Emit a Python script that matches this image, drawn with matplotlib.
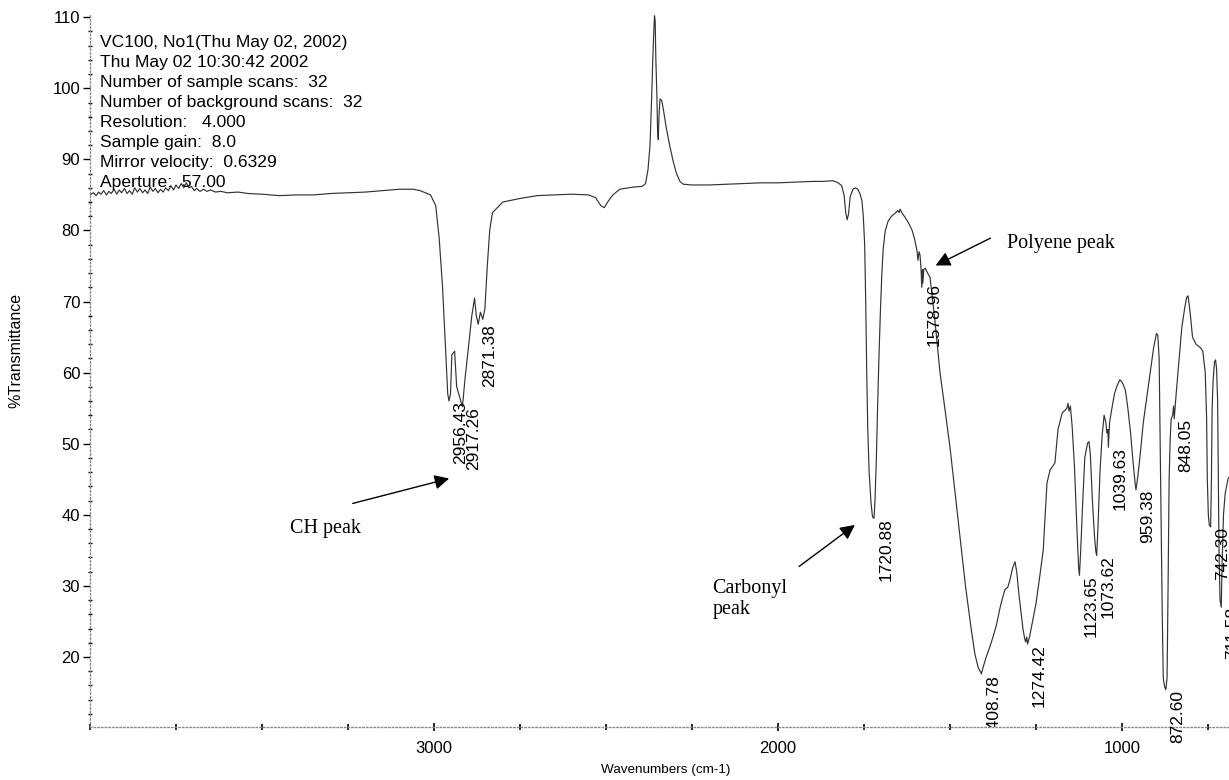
import matplotlib
matplotlib.use("Agg")
import matplotlib.pyplot as plt
from matplotlib.ticker import FixedLocator, MultipleLocator
import numpy as np

# FTIR spectrum, wavenumber (cm-1) against %T
wavenumber = [
    4000, 3990, 3982, 3975, 3968, 3960, 3952, 3945, 3938, 3930, 3922, 3915,
    3908, 3900, 3892, 3885, 3877, 3870, 3862, 3855, 3847, 3840, 3832, 3825,
    3817, 3810, 3802, 3795, 3787, 3780, 3772, 3765, 3757, 3750, 3742, 3735,
    3727, 3720, 3712, 3705, 3697, 3690, 3680, 3670, 3660, 3650, 3635, 3620,
    3600, 3570, 3540, 3500, 3450, 3400, 3350, 3300, 3250, 3200, 3150, 3100,
    3060, 3040, 3025, 3010,
    2995, 2985, 2975, 2966, 2960, 2956.43, 2952, 2948, 2940, 2934, 2925,
    2917.26, 2910, 2900, 2890, 2882, 2877, 2871.38, 2865, 2858, 2852, 2845,
    2838, 2830, 2800, 2750,
    2700, 2650, 2600, 2550, 2530, 2515, 2505, 2495, 2480, 2460, 2420, 2395,
    2385, 2378, 2372, 2368, 2364, 2361, 2359, 2357, 2355, 2352, 2350, 2348,
    2346, 2343, 2338, 2333, 2325, 2315, 2305, 2295, 2285, 2275, 2250, 2200,
    2150, 2100, 2050, 2000, 1950, 1900, 1870, 1840, 1825, 1815, 1808, 1803,
    1799, 1795, 1790, 1782, 1775, 1768, 1762, 1756, 1752, 1748, 1745, 1742,
    1739, 1735, 1730, 1726, 1724, 1720.88, 1718, 1714, 1710, 1706, 1702, 1698,
    1694, 1688, 1680, 1670, 1660, 1652, 1648, 1645, 1640, 1630, 1620, 1610,
    1603, 1596, 1593, 1590, 1587, 1584, 1582, 1580, 1578.96, 1576, 1572, 1565,
    1558, 1550, 1544, 1536, 1529, 1515, 1500, 1485, 1470, 1455, 1440, 1428,
    1418, 1410, 1408.78, 1404, 1396, 1385, 1375, 1365, 1355, 1349, 1340, 1332,
    1326, 1318, 1311, 1306, 1300, 1294, 1288, 1283, 1280, 1277, 1274.42, 1268,
    1260, 1250, 1240, 1229, 1218, 1209, 1195, 1186, 1174, 1166, 1160, 1157,
    1154, 1150, 1145, 1138, 1131, 1126, 1123.65, 1120, 1114, 1108, 1100, 1096,
    1092, 1086, 1080, 1076, 1073.62, 1070, 1064, 1058, 1052, 1047, 1044, 1041,
    1039.63, 1036, 1030, 1022, 1014, 1006, 998, 990, 983, 975, 968, 962,
    959.38, 955, 948, 938, 928, 918, 908, 900, 896, 892, 889, 886, 883, 880,
    876, 872.60, 869, 866, 863, 860, 857, 853, 850, 848.05, 845, 840, 832,
    826, 818, 812, 808, 802, 795, 785, 772, 765, 758, 754, 752, 749, 746,
    742.30, 740, 738, 735, 731, 728, 725, 722, 720, 718, 715, 711.58, 709,
    705, 700, 692, 680, 665, 650,
]
transmittance = [
    85.0, 85.3, 84.9, 85.4, 85.1, 85.6, 85.0, 85.5, 85.2, 85.8, 85.1, 85.7,
    85.3, 85.9, 85.2, 85.6, 85.1, 86.0, 85.4, 85.9, 85.3, 85.7, 85.2, 86.1,
    85.5, 85.9, 85.3, 85.8, 85.4, 86.0, 85.6, 86.3, 85.7, 86.4, 85.9, 86.6,
    86.0, 86.7, 86.0, 86.2, 85.6, 85.9, 85.5, 85.8, 85.5, 85.7, 85.4, 85.5,
    85.3, 85.4, 85.2, 85.1, 84.9, 85.0, 85.0, 85.2, 85.3, 85.4, 85.6, 85.8,
    85.8, 85.6, 85.3, 85.0,
    83.5, 79.0, 72.0, 63.0, 57.0, 56.0, 57.0, 62.5, 63.0, 58.0, 56.5,
    55.2, 59.0, 63.5, 68.0, 70.5, 68.0, 66.8, 68.5, 67.5, 69.0, 75.0,
    80.0, 82.5, 84.0, 84.5,
    84.9, 85.0, 85.1, 85.0, 84.6, 83.5, 83.2, 84.0, 85.0, 85.8, 86.1, 86.2,
    86.6, 88.5, 92.0, 97.5, 104.0, 108.0, 110.2, 109.5, 104.0, 99.0, 94.0, 92.8,
    96.0, 98.5, 98.3, 97.0, 94.5, 92.0, 89.8, 88.0, 86.9, 86.5, 86.4, 86.4,
    86.5, 86.6, 86.7, 86.7, 86.8, 86.9, 86.9, 87.0, 86.7, 86.3, 85.0, 82.5,
    81.5, 82.3, 84.8, 85.8, 86.0, 85.8, 85.2, 84.2, 82.0, 78.0, 70.0, 60.0,
    52.0, 46.0, 42.0, 40.0, 39.6, 39.5, 42.0, 48.0, 56.0, 63.0, 69.0, 74.0,
    77.5, 80.0, 81.3, 82.0, 82.4, 82.8, 82.5, 83.0, 82.5, 81.8, 81.0, 80.0,
    78.8, 77.2, 75.8, 77.0, 76.5, 74.5, 72.0, 74.5, 72.6, 74.5, 74.7, 74.0,
    73.4, 70.0, 67.4, 63.5, 60.0, 55.0, 49.5, 43.0, 36.5, 30.0, 24.5, 20.5,
    18.5, 17.8, 17.6, 18.5, 19.8, 21.3, 22.8, 24.5, 26.8, 28.0, 29.5, 29.8,
    30.8, 32.5, 33.4, 32.0, 29.0, 26.5, 24.0, 22.6, 22.1, 22.8, 21.8, 23.0,
    25.0, 27.5, 31.0, 35.0, 44.5, 46.3, 47.3, 52.0, 54.3, 54.7, 55.0, 55.7,
    54.6, 55.3, 52.5, 46.7, 38.0, 32.5, 31.5, 35.0, 42.0, 48.1, 50.1, 50.3,
    48.5, 42.0, 37.0, 34.8, 34.3, 38.0, 46.0, 51.0, 54.0, 53.0, 51.5, 52.0,
    49.5, 53.0, 54.8, 57.0, 58.2, 59.0, 58.5, 57.5, 55.0, 51.5, 47.5, 44.5,
    43.5, 45.0, 48.0, 53.0, 56.5, 60.0, 63.5, 65.5, 65.3, 62.0, 50.0, 38.0,
    26.0, 17.0, 15.8, 15.4, 17.0, 30.0, 45.0, 50.5, 53.5, 54.0, 55.3, 53.5,
    55.5, 58.5, 63.0, 66.4, 69.0, 70.6, 70.8, 68.5, 65.0, 64.0, 63.5, 63.0,
    60.0, 53.5, 45.0, 40.0, 38.5, 38.3, 45.0, 55.0, 59.0, 61.5, 61.8, 60.5,
    56.0, 45.0, 35.0, 28.0, 27.0, 33.0, 40.0, 43.0, 45.0, 46.0, 47.0, 48.0,
]

peak_labels = [2956.43, 2917.26, 2871.38, 1720.88, 1578.96, 1408.78, 1274.42,
               1123.65, 1073.62, 1039.63, 959.38, 872.60, 848.05, 742.30, 711.58]

header_lines = [
    "VC100, No1(Thu May 02, 2002)",
    "Thu May 02 10:30:42 2002",
    "Number of sample scans:  32",
    "Number of background scans:  32",
    "Resolution:   4.000",
    "Sample gain:  8.0",
    "Mirror velocity:  0.6329",
    "Aperture:  57.00",
]

plt.rcParams['font.family'] = ['Liberation Sans', 'DejaVu Sans']

fig = plt.figure(figsize=(12.29, 7.8), dpi=100)
ax = fig.add_axes([0.0732, 0.068, 0.9377, 0.9154])

ax.plot(wavenumber, transmittance, color='#333333', lw=0.85)

ax.set_xlim(4000, 650)
ax.set_ylim(10.15, 110.6)

for side in ['top', 'right']:
    ax.spines[side].set_visible(False)
for side in ['left', 'bottom']:
    ax.spines[side].set_linestyle(':')
    ax.spines[side].set_color('#8a8a8a')
    ax.spines[side].set_linewidth(1.0)

ax.xaxis.set_major_locator(FixedLocator([1000, 2000, 3000]))
ax.xaxis.set_minor_locator(MultipleLocator(250))
ax.yaxis.set_major_locator(FixedLocator(range(20, 111, 10)))
ax.yaxis.set_minor_locator(MultipleLocator(2))
ax.tick_params(axis='x', which='major', direction='inout', length=6, width=1.2,
               labelsize=12, pad=7)
ax.tick_params(axis='x', which='minor', direction='inout', length=5, width=1.2)
ax.tick_params(axis='y', which='major', direction='out', length=5, width=1,
               labelsize=12, pad=2)
ax.tick_params(axis='y', which='minor', direction='inout', length=3, width=1)

ax.set_xlabel('Wavenumbers (cm-1)', fontsize=9.7, labelpad=6)
fig.text(16 / 1229, 1 - 350 / 780, '%Transmittance', fontsize=11.5,
         rotation=90, ha='center', va='center')

# peak position labels, written upward just right of each minimum
wn_rev = np.array(wavenumber[::-1])
t_rev = np.array(transmittance[::-1])
for wn in peak_labels:
    t = np.interp(wn, wn_rev, t_rev)
    ax.annotate(f'{wn:.2f}', xy=(wn, t), xytext=(3, 0), textcoords='offset points',
                rotation=90, ha='left', va='top', fontsize=12.5,
                annotation_clip=False, clip_on=(wn == 1408.78))

# acquisition details
for i, line in enumerate(header_lines):
    fig.text(100 / 1229, 1 - (43 + i * 19.9) / 780, line, fontsize=12.6,
             ha='left', va='center')

serif = ['Liberation Serif', 'DejaVu Serif']
arrow = dict(arrowstyle='-|>', color='black', lw=1.0, mutation_scale=22)

ax.text(3419, 38.1, 'CH peak', family=serif, fontsize=14.5, ha='left', va='center')
ax.annotate('', xy=(2948, 45.2), xytext=(3244, 41.5), arrowprops=arrow)

ax.text(2190, 31.0, 'Carbonyl\npeak', family=serif, fontsize=14.5, ha='left',
        va='top', linespacing=1.15)
ax.annotate('', xy=(1770, 38.8), xytext=(1945, 32.5), arrowprops=arrow)

ax.text(1334, 78.2, 'Polyene peak', family=serif, fontsize=14.5, ha='left',
        va='center')
ax.annotate('', xy=(1549, 74.9), xytext=(1375, 79.1), arrowprops=arrow)

fig.savefig('out.png', dpi=100)
